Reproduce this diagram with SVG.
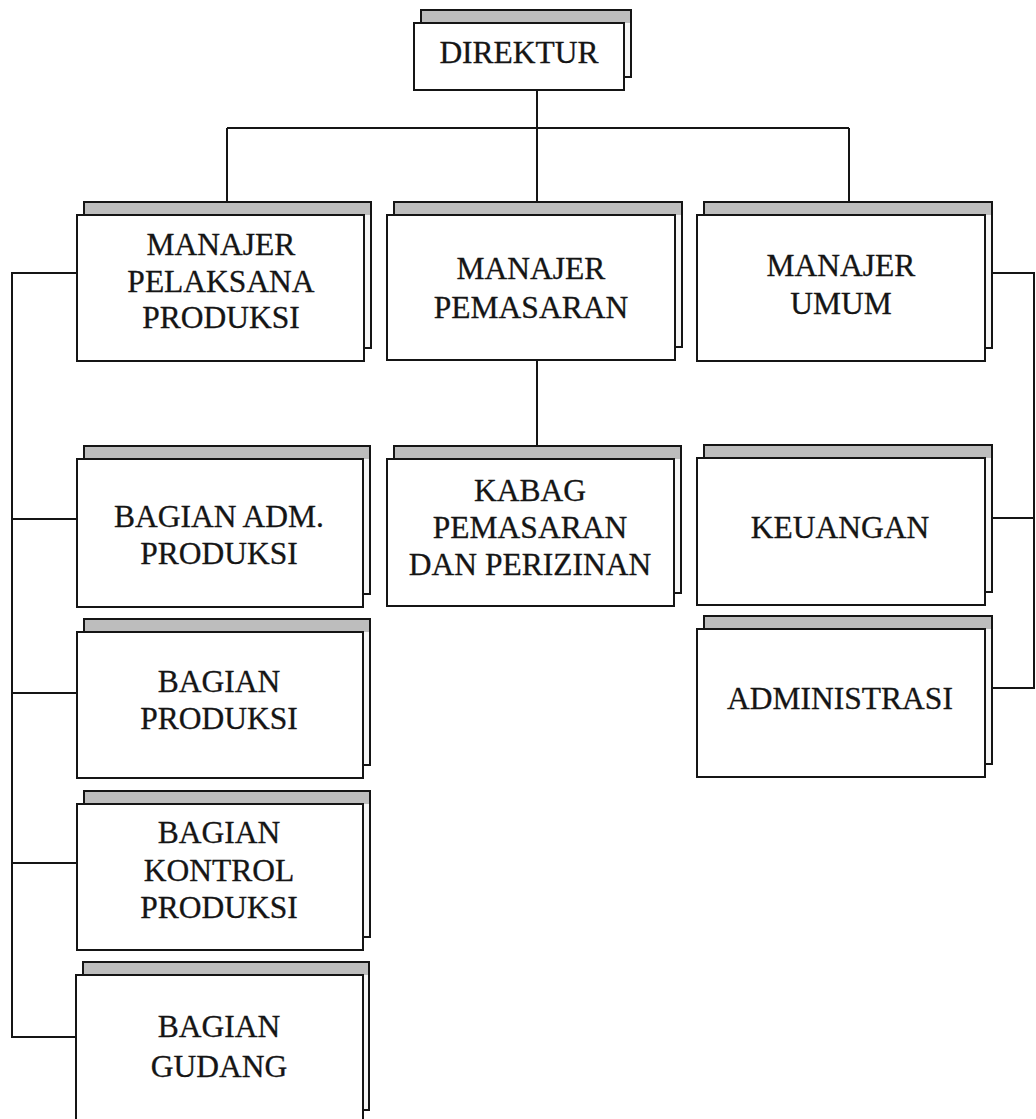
<svg xmlns="http://www.w3.org/2000/svg" width="1036" height="1119" viewBox="0 0 1036 1119">
<style>
.back{fill:#f6f6f6;stroke:#151515;stroke-width:2}
.strip{fill:#bdbdbd}
.front{fill:#ffffff;stroke:#151515;stroke-width:2}
.lbl{font-family:"Liberation Serif","Times New Roman",serif;font-size:31.5px;text-anchor:middle;fill:#151515;stroke:#151515;stroke-width:0.3}
.conn{fill:none;stroke:#151515;stroke-width:2}
</style>
<rect width="1036" height="1119" fill="#ffffff"/>
<g id="connectors">
<path class="conn" d="M537 90V128M227 128H849M227 128V215M537 128V215M849 128V215"/>
<path class="conn" d="M537 360V459"/>
<path class="conn" d="M77 273H12V1037H77M12 519H77M12 693H77M12 863H77"/>
<path class="conn" d="M992 273H1034V688H992M992 518H1034"/>
</g>
<g id="direktur">
<rect class="back" x="421" y="10" width="210" height="67"/>
<rect class="strip" x="422" y="11" width="208" height="12"/>
<rect class="front" x="414" y="23" width="210" height="67"/>
<text class="lbl" x="519" y="63">DIREKTUR</text>
</g>
<g id="manajer-pelaksana-produksi">
<rect class="back" x="84" y="202" width="287" height="146"/>
<rect class="strip" x="85" y="203" width="285" height="12"/>
<rect class="front" x="77" y="215" width="287" height="146"/>
<text class="lbl" x="221" y="255">MANAJER</text>
<text class="lbl" x="221" y="292">PELAKSANA</text>
<text class="lbl" x="221" y="328">PRODUKSI</text>
</g>
<g id="manajer-pemasaran">
<rect class="back" x="394" y="202" width="288" height="145"/>
<rect class="strip" x="395" y="203" width="286" height="12"/>
<rect class="front" x="387" y="215" width="288" height="145"/>
<text class="lbl" x="531" y="279">MANAJER</text>
<text class="lbl" x="531" y="318">PEMASARAN</text>
</g>
<g id="manajer-umum">
<rect class="back" x="704" y="202" width="288" height="146"/>
<rect class="strip" x="705" y="203" width="286" height="12"/>
<rect class="front" x="697" y="215" width="288" height="146"/>
<text class="lbl" x="841" y="276">MANAJER</text>
<text class="lbl" x="841" y="314">UMUM</text>
</g>
<g id="bagian-adm-produksi">
<rect class="back" x="84" y="446" width="286" height="148"/>
<rect class="strip" x="85" y="447" width="284" height="12"/>
<rect class="front" x="77" y="459" width="286" height="148"/>
<text class="lbl" x="219" y="527">BAGIAN ADM.</text>
<text class="lbl" x="219" y="564">PRODUKSI</text>
</g>
<g id="kabag-pemasaran">
<rect class="back" x="394" y="446" width="287" height="147"/>
<rect class="strip" x="395" y="447" width="285" height="12"/>
<rect class="front" x="387" y="459" width="287" height="147"/>
<text class="lbl" x="530" y="501">KABAG</text>
<text class="lbl" x="530" y="538">PEMASARAN</text>
<text class="lbl" x="530" y="575">DAN PERIZINAN</text>
</g>
<g id="keuangan">
<rect class="back" x="704" y="445" width="288" height="147"/>
<rect class="strip" x="705" y="446" width="286" height="12"/>
<rect class="front" x="697" y="458" width="288" height="147"/>
<text class="lbl" x="840" y="538">KEUANGAN</text>
</g>
<g id="administrasi">
<rect class="back" x="704" y="616" width="288" height="148"/>
<rect class="strip" x="705" y="617" width="286" height="12"/>
<rect class="front" x="697" y="629" width="288" height="148"/>
<text class="lbl" x="840" y="709">ADMINISTRASI</text>
</g>
<g id="bagian-produksi">
<rect class="back" x="84" y="619" width="286" height="146"/>
<rect class="strip" x="85" y="620" width="284" height="12"/>
<rect class="front" x="77" y="632" width="286" height="146"/>
<text class="lbl" x="219" y="692">BAGIAN</text>
<text class="lbl" x="219" y="729">PRODUKSI</text>
</g>
<g id="bagian-kontrol-produksi">
<rect class="back" x="84" y="791" width="286" height="146"/>
<rect class="strip" x="85" y="792" width="284" height="12"/>
<rect class="front" x="77" y="804" width="286" height="146"/>
<text class="lbl" x="219" y="843">BAGIAN</text>
<text class="lbl" x="219" y="881">KONTROL</text>
<text class="lbl" x="219" y="918">PRODUKSI</text>
</g>
<g id="bagian-gudang">
<rect class="back" x="83" y="962" width="286" height="148"/>
<rect class="strip" x="84" y="963" width="284" height="12"/>
<rect class="front" x="76" y="975" width="287" height="148"/>
<text class="lbl" x="219" y="1037">BAGIAN</text>
<text class="lbl" x="219" y="1077">GUDANG</text>
</g>
</svg>
